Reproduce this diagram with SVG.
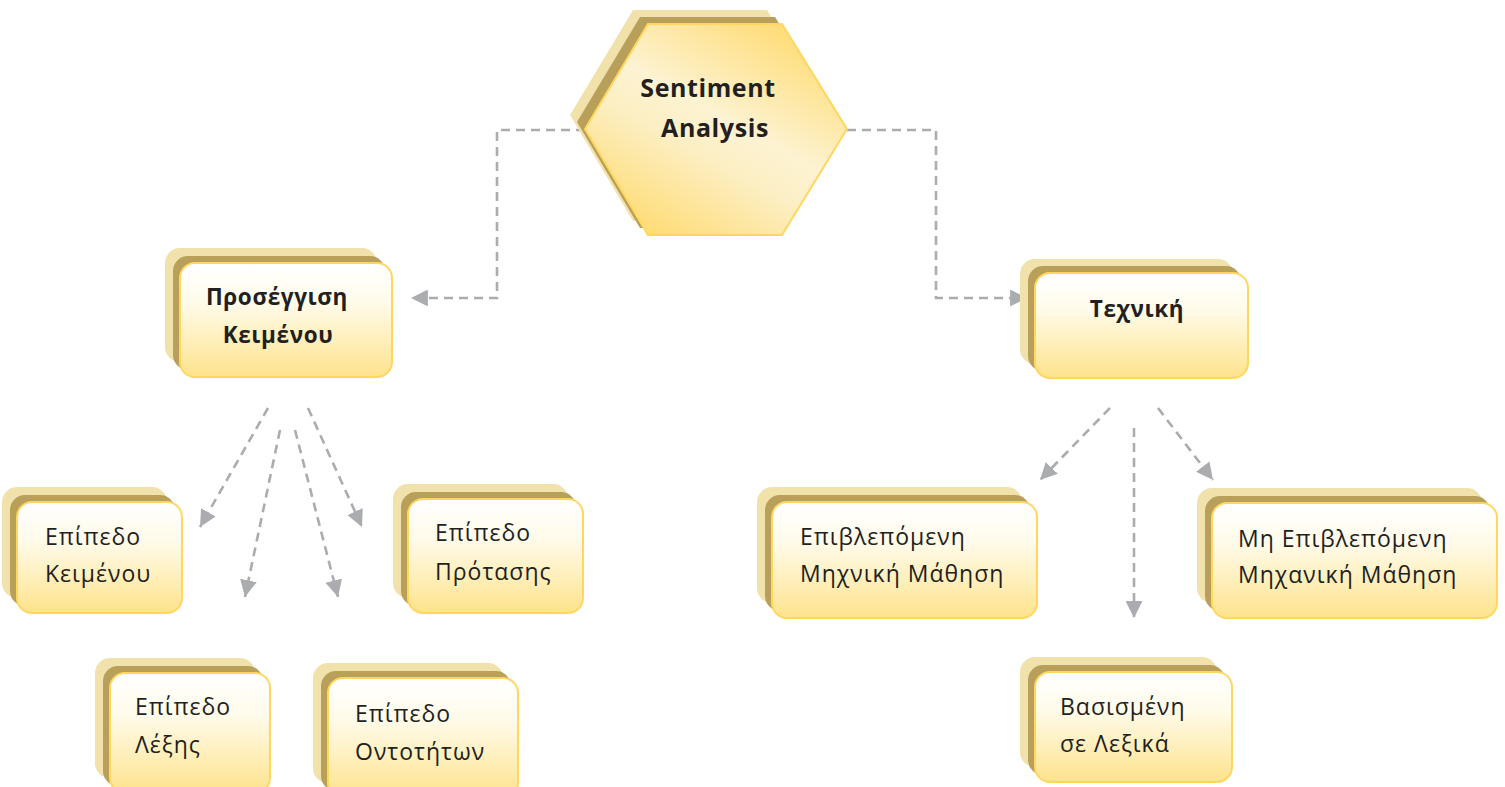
<svg xmlns="http://www.w3.org/2000/svg" width="1505" height="787" viewBox="0 0 1505 787">
<defs>
<linearGradient id="g" x1="0" y1="0" x2="0" y2="1">
<stop offset="0" stop-color="#FFFFFF"/>
<stop offset="0.35" stop-color="#FFFBEA"/>
<stop offset="1" stop-color="#FEE38C"/>
</linearGradient>
<linearGradient id="hg" x1="0.85" y1="0" x2="0.15" y2="1">
<stop offset="0" stop-color="#FFD96A"/>
<stop offset="0.45" stop-color="#FDF3D2"/>
<stop offset="0.6" stop-color="#FCEFC4"/>
<stop offset="1" stop-color="#FFD96A"/>
</linearGradient>
<marker id="ah" viewBox="0 0 10 10" refX="10" refY="5" markerWidth="6.5" markerHeight="6.5" orient="auto" markerUnits="strokeWidth">
<path d="M0,0 L10,5 L0,10 Z" fill="#ABACB0"/>
</marker>
<style>
.b1{fill:#F1E1AB}
.b2{fill:#B9A05A}
.f{fill:url(#g);stroke:#FFD75E;stroke-width:2}
.c{fill:none;stroke:#ABACB0;stroke-width:2.6;stroke-dasharray:9 6;marker-end:url(#ah)}
.t{font-family:"Open Sans","Noto Sans",sans-serif;font-size:23px;fill:#231F20;letter-spacing:1px}
.tb{font-family:"Open Sans","Noto Sans",sans-serif;font-size:22.5px;font-weight:bold;fill:#231F20;text-anchor:middle;letter-spacing:0.6px}
</style>
</defs>
<rect width="1505" height="787" fill="#FFFFFF"/>
<g id="connectors">
<path class="c" d="M585,130 H497 V298 H411"/>
<path class="c" d="M847,130 H936 V298 H1027"/>
<path class="c" d="M268,408 L200,527"/>
<path class="c" d="M280,430 L245,597"/>
<path class="c" d="M295,430 L338,597"/>
<path class="c" d="M308,408 L362,527"/>
<path class="c" d="M1110,408 L1040,480"/>
<path class="c" d="M1134,428 V618"/>
<path class="c" d="M1158,408 L1213,480"/>
</g>
<g id="sentiment">
<polygon class="b1" points="570,115 633,10 767,10 832,115 767,221 633,221"/>
<polygon class="b2" points="577,122 640,17 775,17 840,122 775,228 640,228"/>
<polygon points="585,129 648,24 782,24 847,129 782,235 648,235" fill="url(#hg)" stroke="#FFD75E" stroke-width="2"/>
<text class="tb" style="font-size:25px" x="708" y="97">Sentiment</text>
<text class="tb" style="font-size:25px" x="715" y="137">Analysis</text>
</g>
<g id="proseggisi">
<rect class="b1" x="165" y="248" width="212" height="114" rx="15"/>
<rect class="b2" x="173" y="256" width="212" height="114" rx="15"/>
<rect class="f" x="180" y="263" width="212" height="114" rx="15"/>
<text class="tb" x="277" y="305">Προσέγγιση</text>
<text class="tb" x="278" y="343">Κειμένου</text>
</g>
<g id="techniki">
<rect class="b1" x="1020" y="259" width="213" height="105" rx="15"/>
<rect class="b2" x="1028" y="266" width="213" height="105" rx="15"/>
<rect class="f" x="1035" y="273" width="213" height="105" rx="15"/>
<text class="tb" x="1137" y="317">Τεχνική</text>
</g>
<g id="epipedo-keimenou">
<rect class="b1" x="2" y="487" width="165" height="111" rx="15"/>
<rect class="b2" x="10" y="495" width="165" height="111" rx="15"/>
<rect class="f" x="17" y="502" width="165" height="111" rx="15"/>
<text class="t" x="45" y="545">Επίπεδο</text>
<text class="t" x="45" y="582">Κειμένου</text>
</g>
<g id="epipedo-lexis">
<rect class="b1" x="95" y="658" width="160" height="120" rx="15"/>
<rect class="b2" x="103" y="666" width="160" height="120" rx="15"/>
<rect class="f" x="110" y="673" width="160" height="120" rx="15"/>
<text class="t" x="135" y="715">Επίπεδο</text>
<text class="t" x="135" y="753">Λέξης</text>
</g>
<g id="epipedo-ontotiton">
<rect class="b1" x="313" y="663" width="190" height="120" rx="15"/>
<rect class="b2" x="321" y="671" width="190" height="120" rx="15"/>
<rect class="f" x="328" y="678" width="190" height="120" rx="15"/>
<text class="t" x="355" y="722">Επίπεδο</text>
<text class="t" x="355" y="760">Οντοτήτων</text>
</g>
<g id="epipedo-protasis">
<rect class="b1" x="393" y="484" width="175" height="114" rx="15"/>
<rect class="b2" x="401" y="492" width="175" height="114" rx="15"/>
<rect class="f" x="408" y="499" width="175" height="114" rx="15"/>
<text class="t" x="435" y="541">Επίπεδο</text>
<text class="t" x="435" y="580">Πρότασης</text>
</g>
<g id="epivlepomeni">
<rect class="b1" x="757" y="487" width="265" height="116" rx="15"/>
<rect class="b2" x="765" y="495" width="265" height="116" rx="15"/>
<rect class="f" x="772" y="502" width="265" height="116" rx="15"/>
<text class="t" x="800" y="545">Επιβλεπόμενη</text>
<text class="t" x="800" y="582">Μηχνική Μάθηση</text>
</g>
<g id="mi-epivlepomeni">
<rect class="b1" x="1197" y="488" width="285" height="115" rx="15"/>
<rect class="b2" x="1205" y="496" width="285" height="115" rx="15"/>
<rect class="f" x="1212" y="503" width="285" height="115" rx="15"/>
<text class="t" x="1238" y="547">Μη Επιβλεπόμενη</text>
<text class="t" x="1238" y="583">Μηχανική Μάθηση</text>
</g>
<g id="vasismeni">
<rect class="b1" x="1020" y="657" width="197" height="110" rx="15"/>
<rect class="b2" x="1028" y="665" width="197" height="110" rx="15"/>
<rect class="f" x="1035" y="672" width="197" height="110" rx="15"/>
<text class="t" x="1060" y="715">Βασισμένη</text>
<text class="t" x="1060" y="752">σε Λεξικά</text>
</g>
</svg>
